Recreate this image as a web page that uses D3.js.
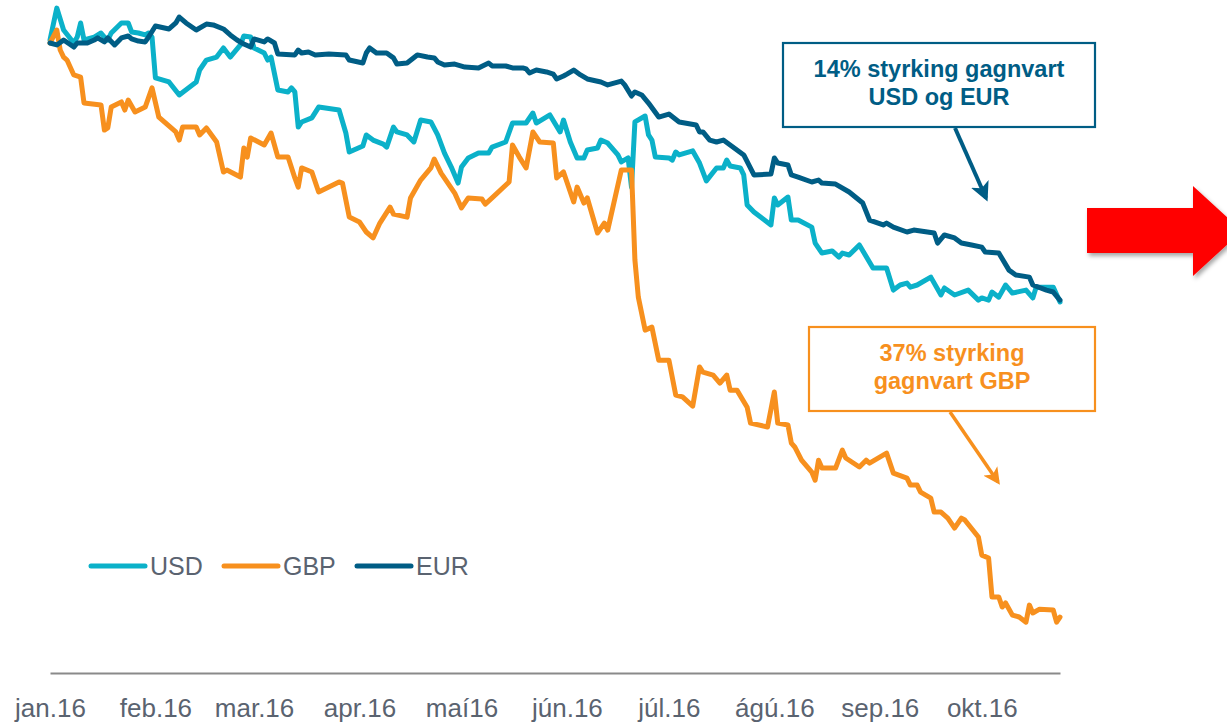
<!DOCTYPE html>
<html>
<head>
<meta charset="utf-8">
<script src="https://cdn.jsdelivr.net/npm/d3@7"></script>
<style>
  html, body { margin: 0; padding: 0; background: #ffffff; }
  svg { display: block; font-family: "Liberation Sans", Arial, sans-serif; }
</style>
</head>
<body>
<svg id="chart" width="1227" height="722"></svg>
<script>
// ISK price of each currency, index (1 Jan 2016 = 100); first value = days since 1 Jan 2016
const usd = [[0,100.14],[2,101.64],[4,100.61],[7,100],[8,100.28],[9,100.94],[10,100.14],[13,100.28],[15,100.47],[16,100.28],[17,100.14],[18,100.47],[21,100.94],[23,100.94],[24,100.52],[26,100.47],[28,100.38],[29,100.47],[30,100.28],[31,98.36],[35,98.17],[38,97.56],[43,98.17],[44,98.73],[46,99.20],[49,99.34],[51,99.77],[53,99.34],[56,99.91],[57,100.33],[59,100.28],[60,99.77],[63,99.53],[64,99.20],[65,99.34],[67,97.79],[70,97.70],[71,97.89],[72,97.70],[73,96.05],[74,96.29],[77,96.48],[79,96.99],[85,96.85],[87,95.77],[88,94.88],[92,95.16],[93,95.68],[95,95.44],[98,95.25],[99,95.11],[101,96.05],[102,95.82],[105,95.68],[107,95.35],[109,96.38],[112,96.29],[114,95.68],[116,94.83],[118,94.17],[120,93.42],[121,94.17],[123,94.60],[126,94.83],[129,94.83],[130,95.11],[134,95.35],[136,96.24],[140,96.24],[142,96.71],[143,96.24],[147,96.62],[150,95.82],[151,96.38],[153,95.35],[155,94.60],[157,94.60],[158,94.97],[161,95.07],[162,95.44],[164,95.30],[167,94.74],[168,94.41],[170,94.60],[171,93.23],[172,96.29],[175,96.57],[176,95.68],[177,95.44],[178,94.64],[182,94.60],[183,94.50],[184,94.88],[185,94.74],[189,94.93],[191,94.36],[193,93.52],[196,94.13],[198,94.13],[199,94.50],[200,94.22],[203,94.13],[204,93.80],[205,92.39],[207,92.06],[212,91.45],[213,92.72],[214,92.39],[217,92.76],[218,91.68],[220,91.68],[224,91.35],[225,90.60],[227,90.13],[230,90.23],[232,89.94],[233,90.13],[235,90.04],[238,90.51],[242,89.43],[246,89.43],[248,88.39],[250,88.63],[252,88.72],[253,88.53],[255,88.63],[259,89.00],[262,88.16],[263,88.49],[266,88.16],[270,88.39],[273,87.92],[274,88.02],[276,87.92],[277,88.30],[279,88.06],[281,88.63],[283,88.25],[287,88.39],[289,88.02],[290,88.53],[295,88.53],[297,87.83]];

const gbp = [[0,100],[2,100.61],[3,99.67],[4,99.34],[5,99.20],[7,98.50],[9,98.40],[10,97.18],[15,97.09],[16,95.91],[17,96.01],[18,96.99],[21,97.23],[22,96.85],[23,97.32],[25,96.76],[28,96.99],[30,97.89],[32,96.52],[37,95.82],[38,95.44],[39,96.05],[43,96.05],[44,95.68],[46,96.01],[49,95.35],[51,93.94],[52,94.03],[56,93.70],[57,95.07],[58,94.64],[59,95.54],[63,95.21],[65,95.77],[67,94.64],[70,94.64],[72,93.66],[73,93.23],[74,94.13],[77,93.94],[79,93.00],[85,93.47],[86,93.42],[88,91.82],[91,91.59],[93,91.12],[95,90.84],[97,91.54],[100,92.29],[101,91.96],[105,91.82],[106,92.72],[109,93.56],[112,94.13],[113,94.55],[115,93.89],[119,92.95],[121,92.25],[123,92.72],[127,92.67],[128,92.43],[130,92.72],[135,93.47],[136,95.21],[138,94.64],[140,94.13],[142,95.82],[144,95.35],[148,95.30],[149,93.66],[151,93.94],[154,92.53],[155,93.23],[157,92.48],[158,92.72],[161,91.07],[163,91.54],[164,91.21],[168,94.03],[171,94.03],[172,89.80],[173,88.06],[175,86.51],[177,86.65],[179,85.10],[182,85.10],[184,83.46],[186,83.37],[189,82.94],[191,84.78],[192,84.54],[195,84.40],[197,84.02],[199,84.40],[200,83.69],[202,83.69],[205,82.89],[206,82.14],[211,81.96],[213,83.60],[214,82.14],[217,82.05],[218,81.20],[219,81.02],[221,80.40],[224,79.84],[225,79.46],[226,80.40],[227,80.03],[231,80.03],[233,80.87],[234,80.50],[238,80.08],[240,80.40],[241,80.26],[246,80.73],[248,79.79],[252,79.56],[253,79.23],[255,79.23],[256,78.90],[259,78.62],[260,77.96],[262,77.96],[264,77.68],[266,77.21],[268,77.68],[269,77.59],[273,76.79],[274,75.94],[276,75.80],[277,73.97],[279,73.97],[280,73.50],[281,73.69],[283,73.12],[285,73.03],[287,72.79],[288,73.59],[289,73.22],[291,73.40],[295,73.36],[296,72.79],[297,73.03]];

const eur = [[0,100],[2,99.91],[4,100.14],[7,99.81],[8,100],[11,100],[13,100.14],[14,100.24],[16,100.05],[17,100.24],[19,99.91],[21,100.24],[23,100.33],[24,100.19],[26,100.09],[28,100.05],[29,100.28],[31,100.80],[35,100.66],[37,100.94],[38,101.22],[40,100.94],[43,100.61],[46,100.89],[48,100.85],[51,100.66],[53,100.38],[55,100.14],[57,99.95],[59,99.81],[60,100.19],[63,100.05],[64,100.19],[66,100],[67,99.48],[72,99.44],[73,99.67],[74,99.53],[76,99.58],[78,99.44],[82,99.48],[87,99.44],[88,99.20],[92,99.06],[93,99.53],[94,99.77],[96,99.53],[99,99.53],[101,99.30],[102,99.01],[105,99.06],[108,99.44],[111,99.34],[113,99.30],[114,99.11],[116,98.97],[119,99.01],[122,98.87],[126,98.83],[129,99.06],[130,98.92],[134,98.92],[136,98.83],[139,98.83],[140,98.78],[141,98.59],[143,98.73],[146,98.64],[148,98.54],[149,98.31],[151,98.45],[152,98.54],[154,98.73],[156,98.50],[158,98.31],[162,98.17],[164,98.03],[168,98.21],[169,98.03],[171,97.51],[172,97.70],[174,97.56],[176,97.18],[179,96.52],[182,96.66],[185,96.29],[190,96.15],[191,95.82],[192,95.82],[194,95.44],[196,95.35],[198,95.44],[200,95.21],[204,94.74],[207,93.80],[212,93.84],[213,94.60],[214,94.36],[217,94.27],[218,93.80],[220,93.70],[224,93.47],[226,93.56],[227,93.42],[231,93.37],[235,93.00],[239,92.48],[241,91.68],[245,91.45],[246,91.54],[248,91.35],[252,91.12],[254,91.21],[260,91.07],[261,90.60],[263,90.98],[266,90.84],[268,90.60],[271,90.51],[274,90.41],[275,90.18],[279,90.13],[282,89.33],[284,89.10],[288,89.00],[289,88.63],[293,88.39],[295,88.30],[297,87.92]];

const seriesNames = ["USD", "GBP", "EUR"];
const seriesColors = ["#0bb1c9", "#f7901e", "#005d85"];
const monthLabels = ["jan.16","feb.16","mar.16","apr.16","maí16","jún.16","júl.16","ágú.16","sep.16","okt.16"];
const notes = [
  { lines: ["14% styrking gagnvart", "USD og EUR"], color: "#005d85" },
  { lines: ["37% styrking", "gagnvart GBP"], color: "#f7901e" }
];

const svg = d3.select("#chart");
const start = new Date(2016, 0, 1);
const toDate = d => d3.timeDay.offset(start, d);

const x = d3.scaleTime()
  .domain([start, toDate(297)])
  .range([50, 1060]);
const y = d3.scaleLinear()
  .domain([70.4, 100])
  .range([673, 43]);

// x axis: month starts, no ticks, grey baseline
const monthStarts = d3.range(10).map(m => new Date(2016, m, 1));
const axis = svg.append("g")
  .attr("transform", `translate(0,${y(70.4)})`)
  .call(d3.axisBottom(x)
    .tickValues(monthStarts)
    .tickSize(0)
    .tickPadding(26)
    .tickFormat((d, i) => monthLabels[i]));
axis.select(".domain").attr("stroke", "#8a8a8a").attr("stroke-width", 2);
axis.selectAll("text")
  .attr("fill", "#5a6370")
  .style("font-size", "26px")
  .style("font-family", "'Liberation Sans', Arial, sans-serif");

// lines
const line = d3.line()
  .x(d => x(toDate(d[0])))
  .y(d => y(d[1]));

[usd, gbp, eur].forEach((s, i) => {
  svg.append("path")
    .datum(s)
    .attr("fill", "none")
    .attr("stroke", seriesColors[i])
    .attr("stroke-width", 5)
    .attr("stroke-linejoin", "round")
    .attr("stroke-linecap", "round")
    .attr("d", line);
});

// legend
const legend = svg.append("g").attr("transform", "translate(91,566)");
seriesNames.forEach((name, i) => {
  const g = legend.append("g").attr("transform", `translate(${i * 133},0)`);
  g.append("line")
    .attr("x1", 0).attr("x2", 54).attr("y1", 0).attr("y2", 0)
    .attr("stroke", seriesColors[i]).attr("stroke-width", 5)
    .attr("stroke-linecap", "round");
  g.append("text")
    .attr("x", 59).attr("y", 9)
    .attr("fill", "#5a6370")
    .style("font-size", "25px")
    .text(name);
});

// annotation boxes with pointer arrows
const defs = svg.append("defs");
notes.forEach((n, i) => {
  defs.append("marker")
    .attr("id", "head" + i)
    .attr("viewBox", "0 0 10 10")
    .attr("refX", 8).attr("refY", 5)
    .attr("markerWidth", 4.8).attr("markerHeight", 4.8)
    .attr("markerUnits", "strokeWidth")
    .attr("orient", "auto")
    .append("path").attr("d", "M0,0 L10,5 L0,10 L2.5,5 Z").attr("fill", n.color);
});

const boxes = [
  { x: 783, y: 43, w: 312, h: 84, cx: 939, base: 77, arrow: [955, 128, 986, 198], sw: 4 },
  { x: 809, y: 327, w: 286, h: 84, cx: 952, base: 361, arrow: [950, 412, 998, 482], sw: 3.5 }
];
boxes.forEach((b, i) => {
  const n = notes[i];
  svg.append("rect")
    .attr("x", b.x).attr("y", b.y).attr("width", b.w).attr("height", b.h)
    .attr("fill", "#ffffff").attr("stroke", n.color).attr("stroke-width", 2.2);
  n.lines.forEach((t, j) => {
    svg.append("text")
      .attr("x", b.cx).attr("y", b.base + j * 28)
      .attr("text-anchor", "middle")
      .attr("fill", n.color)
      .style("font-size", "23.5px")
      .style("font-weight", "bold")
      .text(t);
  });
  svg.append("line")
    .attr("x1", b.arrow[0]).attr("y1", b.arrow[1])
    .attr("x2", b.arrow[2]).attr("y2", b.arrow[3])
    .attr("stroke", n.color).attr("stroke-width", b.sw)
    .attr("marker-end", `url(#head${i})`);
});

// big red arrow on the right edge
const shadow = defs.append("filter").attr("id", "shadow")
  .attr("x", "-20%").attr("y", "-20%").attr("width", "150%").attr("height", "150%");
shadow.append("feDropShadow")
  .attr("dx", 2).attr("dy", 3).attr("stdDeviation", 2)
  .attr("flood-color", "#000").attr("flood-opacity", 0.35);
svg.append("path")
  .attr("d", "M1087,208 L1193,208 L1193,186 L1242,231 L1193,276 L1193,253 L1087,253 Z")
  .attr("fill", "#ff0000")
  .attr("filter", "url(#shadow)");
</script>
</body>
</html>
